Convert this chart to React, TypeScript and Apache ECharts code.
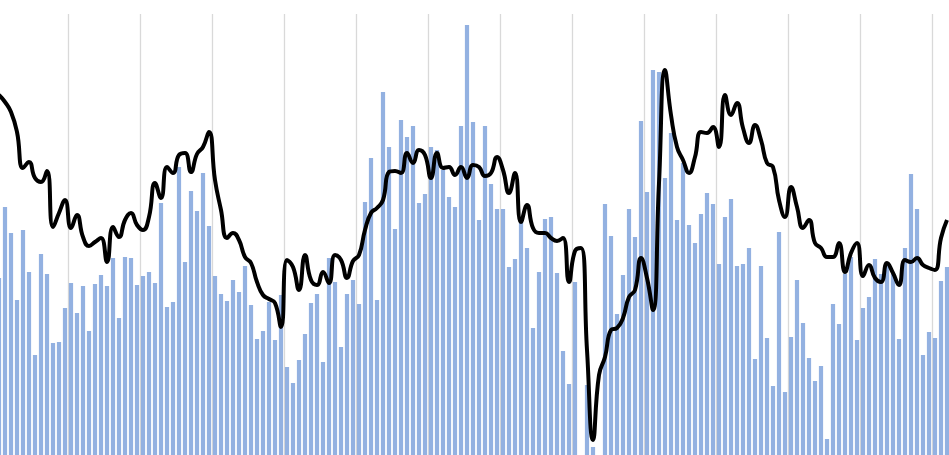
import React, { useEffect, useRef } from "react";
import * as echarts from "echarts";

// Bar heights (pixel-scale units above the baseline), one per month
const barValues: number[] = [
  177, 248, 222, 155, 225, 183, 100, 201, 181, 112, 113, 147,
  172, 142, 169, 124, 171, 180, 169, 197, 137, 198, 197, 170,
  179, 183, 172, 252, 148, 153, 288, 193, 264, 244, 282, 229,
  179, 161, 154, 175, 163, 189, 150, 116, 124, 153, 115, 160,
  88, 72, 95, 121, 152, 161, 93, 197, 173, 108, 161, 175,
  151, 253, 297, 155, 363, 308, 226, 335, 318, 329, 252, 261,
  308, 305, 285, 258, 248, 329, 430, 333, 235, 329, 271, 246,
  246, 188, 196, 233, 207, 127, 183, 236, 238, 182, 104, 71,
  173, 0, 70, 8, 0, 251, 219, 141, 180, 246, 218, 334,
  263, 385, 383, 277, 322, 235, 292, 230, 212, 241, 262, 251,
  191, 238, 256, 189, 191, 207, 96, 189, 117, 69, 223, 63,
  118, 175, 132, 97, 74, 89, 16, 151, 131, 181, 198, 115,
  147, 158, 196, 181, 193, 181, 116, 207, 281, 246, 100, 123,
  117, 174, 188,
];

// Smoothed trend line values, same scale
const lineValues: number[] = [
  360, 353, 343, 323, 287, 293, 277, 273, 284, 228, 242, 255,
  227, 240, 218, 209, 213, 217, 193, 228, 218, 235, 242, 230,
  225, 238, 272, 257, 288, 282, 300, 302, 283, 301, 308, 323,
  275, 245, 217, 222, 215, 198, 192, 173, 160, 156, 152, 128,
  195, 188, 165, 200, 175, 170, 183, 172, 200, 195, 177, 194,
  200, 225, 242, 247, 255, 283, 284, 282, 302, 292, 305, 300,
  277, 302, 287, 288, 280, 288, 277, 290, 288, 279, 282, 298,
  285, 262, 282, 233, 250, 227, 222, 222, 217, 214, 217, 173,
  204, 207, 105, 15, 80, 98, 125, 127, 137, 158, 165, 197,
  177, 145, 272, 385, 340, 308, 295, 282, 298, 323, 322, 328,
  308, 360, 340, 352, 327, 312, 330, 315, 292, 288, 255, 238,
  268, 248, 227, 235, 212, 207, 198, 198, 212, 183, 202, 212,
  179, 190, 177, 173, 192, 182, 170, 195, 193, 197, 190, 187,
  185, 217, 235,
];

const categories: string[] = barValues.map((_, i) => String(i + 1));

export default function App() {
  const ref = useRef<HTMLDivElement>(null);

  useEffect(() => {
    if (!ref.current) return;
    const chart = echarts.init(ref.current, undefined, { renderer: "svg" });
    chart.setOption({
      animation: false,
      backgroundColor: "#ffffff",
      grid: { left: 0, right: 0, top: 14, bottom: 0, containLabel: false },
      xAxis: {
        type: "category",
        data: categories,
        boundaryGap: true,
        axisLine: { show: false },
        axisTick: { show: false },
        axisLabel: { show: false },
        splitLine: {
          show: true,
          interval: (index: number) => index % 12 === 0 && index > 0,
          lineStyle: { color: "#d9d9d9", width: 1.3 },
        },
      },
      yAxis: {
        type: "value",
        min: 0,
        max: 441,
        show: false,
        splitLine: { show: false },
      },
      series: [
        {
          type: "bar",
          data: barValues,
          barCategoryGap: "30%",
          itemStyle: { color: "#93b1e1" },
          z: 2,
        },
        {
          type: "line",
          data: lineValues,
          smooth: 0.5,
          symbol: "none",
          lineStyle: { color: "#000000", width: 4 },
          z: 3,
        },
      ],
    });
    return () => chart.dispose();
  }, []);

  return (
    <div
      ref={ref}
      style={{ position: "fixed", left: -3.7, top: 0, width: 954, height: 455 }}
    />
  );
}
